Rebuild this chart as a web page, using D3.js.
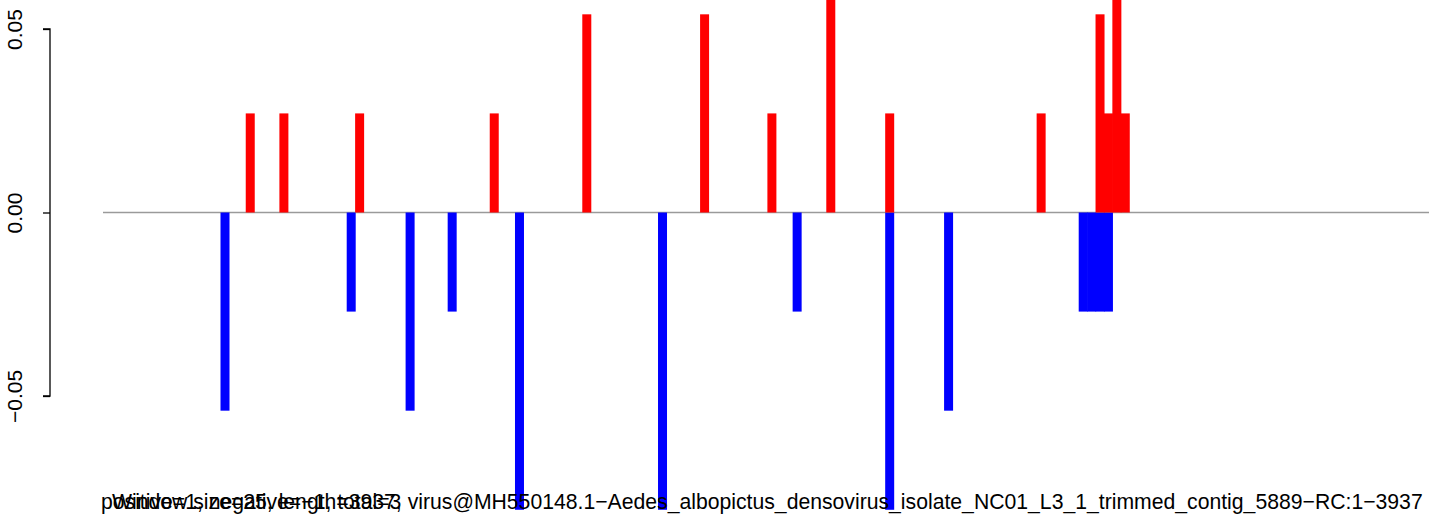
<!DOCTYPE html>
<html>
<head>
<meta charset="utf-8">
<script src="https://cdn.jsdelivr.net/npm/d3@7/dist/d3.min.js"></script>
<style>
  html, body { margin: 0; padding: 0; background: #fff; }
  svg { display: block; }
  text { font-family: "Liberation Sans", Arial, Helvetica, sans-serif; }
</style>
</head>
<body>
<script>
// ---- data ----
const seqLength = 3937;
const windowSize = 25;
// negative strand windows (start position) and values
const negStarts = [350, 725, 900, 1025, 1225, 1650, 2050, 2325, 2500, 2900, 2925, 2950, 2975];
const negValues = [-0.054, -0.027, -0.054, -0.027, -0.081, -0.081, -0.027, -0.081, -0.054, -0.027, -0.027, -0.027, -0.027];
// positive strand windows (start position) and values
const posStarts = [425, 525, 750, 1150, 1425, 1775, 1975, 2150, 2325, 2775, 2950, 2975, 3000, 3025];
const posValues = [0.027, 0.027, 0.027, 0.027, 0.054, 0.054, 0.027, 0.081, 0.027, 0.027, 0.054, 0.027, 0.081, 0.027];
const yTicks = [-0.05, 0, 0.05];
const yTickLabels = ["\u22120.05", "0.00", "0.05"];
const caption1 = "positive=1, negative=\u22121, total=3";
const caption2 = "Window size=25, length=3937, virus@MH550148.1\u2212Aedes_albopictus_densovirus_isolate_NC01_L3_1_trimmed_contig_5889\u2212RC:1\u22123937";

// ---- layout ----
const W = 1429, H = 520;
const svg = d3.select("body").append("svg").attr("width", W).attr("height", H);

const x = d3.scaleLinear().domain([0, seqLength]).range([103, 1428]);
const y = d3.scaleLinear().domain([-0.05, 0.05]).range([396, 29]);
const barW = 9;

// zero line
svg.append("line")
  .attr("x1", x(0)).attr("x2", W)
  .attr("y1", y(0)).attr("y2", y(0))
  .attr("stroke", "#9a9a9a").attr("stroke-width", 1.3);

// negative bars
svg.append("g").selectAll("rect").data(negStarts).join("rect")
  .attr("x", (d) => x(d + windowSize / 2) - barW / 2)
  .attr("width", barW)
  .attr("y", y(0))
  .attr("height", (d, i) => y(negValues[i]) - y(0))
  .attr("fill", "#0000ff");

// positive bars
svg.append("g").selectAll("rect").data(posStarts).join("rect")
  .attr("x", (d) => x(d + windowSize / 2) - barW / 2)
  .attr("width", barW)
  .attr("y", (d, i) => y(posValues[i]))
  .attr("height", (d, i) => y(0) - y(posValues[i]))
  .attr("fill", "#ff0000");

// y axis
const axisG = svg.append("g").attr("transform", "translate(50,0)");
axisG.call(d3.axisLeft(y).tickValues(yTicks).tickSize(7).tickFormat((d, i) => yTickLabels[i]));
axisG.select(".domain").attr("d", `M-7,${y(0.05)}H0V${y(-0.05)}H-7`).attr("stroke", "#000").attr("stroke-width", 1.3);
axisG.selectAll(".tick line").attr("stroke", "#000").attr("stroke-width", 1.3);
axisG.selectAll(".tick text")
  .attr("font-size", 21)
  .attr("fill", "#000")
  .attr("x", 0)
  .attr("text-anchor", "middle")
  .attr("transform", "translate(-35,0) rotate(-90)")
  .attr("dy", "0.35em");

// captions
svg.append("text").attr("x", 101).attr("y", 509).attr("font-size", 21.2).attr("fill", "#000").text(caption1);
svg.append("text").attr("x", 112).attr("y", 509).attr("font-size", 21.2).attr("fill", "#000").text(caption2);
</script>
</body>
</html>
